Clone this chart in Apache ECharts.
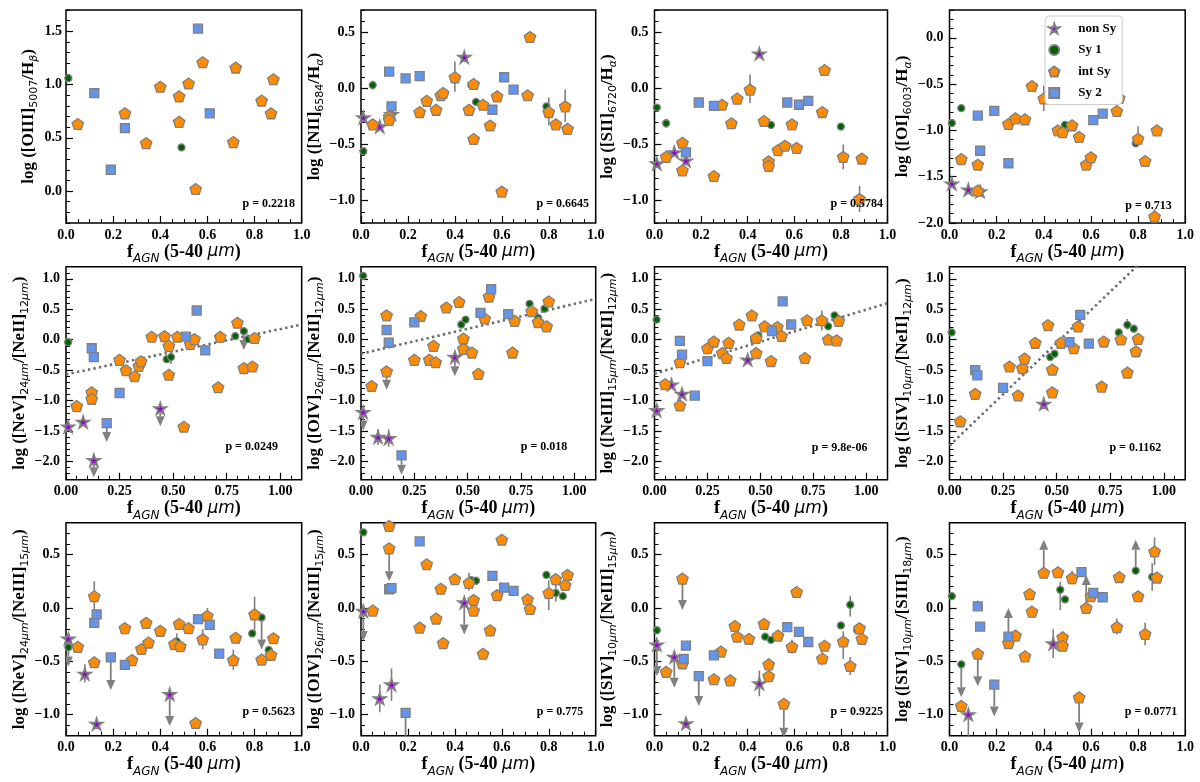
<!DOCTYPE html>
<html><head><meta charset="utf-8">
<script src="https://cdn.jsdelivr.net/npm/echarts@6/dist/echarts.min.js"></script>
<style>html,body{margin:0;padding:0;background:#fff}#c{width:1200px;height:782px}</style>
</head><body><div id="c"></div>
<script>
// ================= DATA =================
// each point: [fAGN, log ratio]; err: [x, low, high]; lim: [x, from, arrowTip]
const p1_nonSy = [];
const p1_sy1 = [[0.01,1.06],[0.49,0.41]];
const p1_int = [[0.05,0.63],[0.25,0.73],[0.34,0.45],[0.40,0.98],[0.48,0.89],[0.48,0.65],[0.52,1.01],[0.55,0.02],[0.58,1.21],[0.72,1.16],[0.71,0.46],[0.83,0.85],[0.87,0.73],[0.88,1.05]];
const p1_sy2 = [[0.12,0.92],[0.25,0.59],[0.19,0.20],[0.56,1.525],[0.61,0.73]];
const p1_err = [];
const p1_lim = [];

const p2_nonSy = [[0.01,-0.26],[0.08,-0.34],[0.13,-0.23],[0.44,0.28]];
const p2_sy1 = [[0.01,-0.56],[0.05,0.03],[0.47,0.03],[0.49,-0.12],[0.79,-0.16]];
const p2_int = [[0.05,-0.32],[0.12,-0.25],[0.12,-0.28],[0.25,-0.21],[0.28,-0.11],[0.32,-0.19],[0.34,-0.06],[0.35,-0.04],[0.40,0.10],[0.46,-0.19],[0.48,0.04],[0.48,-0.45],[0.52,-0.145],[0.55,-0.33],[0.58,-0.07],[0.60,-0.92],[0.71,-0.06],[0.72,0.46],[0.80,-0.21],[0.83,-0.32],[0.87,-0.16],[0.88,-0.36]];
const p2_sy2 = [[0.12,0.15],[0.13,-0.16],[0.19,0.09],[0.25,0.11],[0.56,-0.19],[0.61,0.10],[0.65,-0.01]];
const p2_err = [[0.40,-0.03,0.24],[0.80,-0.33,-0.08],[0.87,-0.30,-0.01],[0.05,-0.01,0.07],[0.12,0.12,0.19],[0.12,-0.31,-0.20]];
const p2_lim = [];

const p3_nonSy = [[0.01,-0.67],[0.085,-0.57],[0.135,-0.645],[0.45,0.31]];
const p3_sy1 = [[0.01,-0.17],[0.05,-0.31],[0.50,-0.325],[0.80,-0.34]];
const p3_int = [[0.05,-0.61],[0.12,-0.485],[0.12,-0.73],[0.255,-0.78],[0.29,-0.145],[0.33,-0.31],[0.355,-0.09],[0.41,-0.01],[0.47,-0.29],[0.49,-0.65],[0.49,-0.69],[0.53,-0.55],[0.56,-0.51],[0.59,-0.32],[0.61,-0.53],[0.72,-0.21],[0.73,0.165],[0.81,-0.61],[0.88,-0.985],[0.89,-0.625]];
const p3_sy2 = [[0.19,-0.125],[0.255,-0.155],[0.135,-0.57],[0.57,-0.125],[0.62,-0.145],[0.66,-0.11]];
const p3_err = [[0.41,-0.13,0.125],[0.81,-0.72,-0.50],[0.88,-1.10,-0.87],[0.05,-0.35,-0.27]];
const p3_lim = [];

const p4_nonSy = [[0.01,-1.575],[0.08,-1.64],[0.13,-1.66]];
const p4_sy1 = [[0.01,-0.92],[0.05,-0.76],[0.49,-0.94],[0.79,-1.14]];
const p4_int = [[0.05,-1.31],[0.12,-1.37],[0.12,-1.65],[0.25,-0.93],[0.28,-0.87],[0.32,-0.88],[0.35,-0.52],[0.40,-0.655],[0.46,-1.0],[0.48,-1.02],[0.52,-0.945],[0.55,-1.07],[0.58,-1.37],[0.60,-1.29],[0.71,-0.79],[0.72,-0.65],[0.80,-1.09],[0.83,-1.33],[0.87,-1.93],[0.88,-1.00]];
const p4_sy2 = [[0.12,-0.84],[0.19,-0.79],[0.13,-1.22],[0.25,-1.355],[0.61,-0.89],[0.65,-0.82]];
const p4_err = [[0.40,-0.79,-0.515],[0.80,-1.17,-0.955],[0.87,-2.0,-1.85]];
const p4_lim = [];

const p5_nonSy = [[0.01,-1.43],[0.08,-1.35],[0.13,-1.98],[0.44,-1.13]];
const p5_sy1 = [[0.01,-0.04],[0.47,-0.32],[0.49,-0.285],[0.79,0.06],[0.83,0.14],[0.85,0.01]];
const p5_int = [[0.05,-1.09],[0.12,-0.865],[0.12,-0.97],[0.25,-0.33],[0.28,-0.50],[0.32,-0.60],[0.34,-0.43],[0.35,-0.355],[0.40,0.05],[0.46,0.06],[0.48,-0.10],[0.48,-0.575],[0.52,0.05],[0.55,-1.43],[0.58,-0.07],[0.60,0.01],[0.71,-0.78],[0.72,0.05],[0.80,0.28],[0.83,-0.465],[0.87,-0.44],[0.88,0.03]];
const p5_sy2 = [[0.12,-0.14],[0.13,-0.285],[0.25,-0.875],[0.19,-1.37],[0.56,0.05],[0.61,0.48],[0.65,-0.175]];
const p5_err = [[0.49,-0.40,-0.20],[0.12,-0.92,-0.82]];
const p5_lim = [[0.13,-1.98,-2.26],[0.44,-1.13,-1.42],[0.19,-1.37,-1.68],[0.83,0.14,-0.17]];
const p5_fit = [[0,-0.57],[1.1,0.25]];

const p6_nonSy = [[0.01,-1.19],[0.08,-1.60],[0.13,-1.62],[0.44,-0.285]];
const p6_sy1 = [[0.01,1.05],[0.47,0.25],[0.49,0.33],[0.79,0.59],[0.83,0.36],[0.86,0.51]];
const p6_int = [[0.05,-0.76],[0.12,0.40],[0.12,-0.52],[0.25,-0.33],[0.28,0.39],[0.32,-0.33],[0.34,-0.10],[0.35,-0.37],[0.40,0.53],[0.46,0.62],[0.48,0.02],[0.48,-0.15],[0.52,-0.21],[0.55,-0.56],[0.58,0.35],[0.60,0.71],[0.71,-0.21],[0.72,0.31],[0.80,0.47],[0.83,0.29],[0.87,0.22],[0.88,0.63]];
const p6_sy2 = [[0.12,0.16],[0.13,-0.05],[0.25,0.285],[0.19,-1.90],[0.56,0.44],[0.61,0.83],[0.69,0.42]];
const p6_err = [[0.08,-1.73,-1.47],[0.13,-1.76,-1.47],[0.83,0.30,0.43]];
const p6_lim = [[0.01,-1.19,-1.49],[0.44,-0.285,-0.60],[0.12,-0.52,-0.82],[0.19,-1.90,-2.22]];
const p6_fit = [[0,-0.23],[1.1,0.67]];

const p7_nonSy = [[0.01,-1.16],[0.08,-0.74],[0.13,-0.89],[0.44,-0.33]];
const p7_sy1 = [[0.01,0.33],[0.47,-0.005],[0.49,0.07],[0.82,0.22],[0.85,0.40]];
const p7_int = [[0.05,-0.73],[0.12,-0.37],[0.12,-1.08],[0.25,-0.14],[0.28,-0.03],[0.32,-0.22],[0.34,-0.30],[0.35,-0.05],[0.40,0.25],[0.46,0.40],[0.48,0.03],[0.48,-0.22],[0.52,0.22],[0.55,-0.35],[0.58,0.21],[0.60,0.065],[0.71,-0.30],[0.72,0.32],[0.79,0.32],[0.82,0.005],[0.86,-0.01],[0.87,0.31]];
const p7_sy2 = [[0.12,-0.02],[0.13,-0.245],[0.25,-0.35],[0.19,-0.92],[0.555,0.14],[0.605,0.63],[0.645,0.25]];
const p7_err = [[0.12,-1.17,-0.98],[0.79,0.15,0.48],[0.01,-1.25,-1.05],[0.13,-0.95,-0.82]];
const p7_lim = [];
const p7_fit = [[0,-0.56],[1.1,0.60]];

const p8_nonSy = [[0.44,-1.055]];
const p8_sy1 = [[0.01,0.12],[0.47,-0.285],[0.49,-0.23],[0.79,0.12],[0.83,0.245],[0.86,0.18]];
const p8_int = [[0.05,-1.34],[0.12,-0.89],[0.28,-0.44],[0.32,-0.915],[0.34,-0.465],[0.35,-0.31],[0.40,-0.05],[0.46,0.24],[0.48,-0.49],[0.48,-0.865],[0.52,-0.05],[0.58,-0.14],[0.60,0.22],[0.71,-0.77],[0.72,-0.03],[0.80,0.005],[0.83,-0.54],[0.87,-0.19],[0.88,0.015]];
const p8_sy2 = [[0.12,-0.50],[0.13,-0.585],[0.25,-0.79],[0.56,-0.04],[0.61,0.41],[0.65,-0.065]];
const p8_err = [[0.83,0.17,0.34],[0.44,-1.12,-0.98]];
const p8_lim = [];
const p8_fit = [[0,-1.74],[1.1,1.97]];

const p9_nonSy = [[0.01,-0.29],[0.08,-0.62],[0.13,-1.09],[0.44,-0.81]];
const p9_sy1 = [[0.01,-0.37],[0.47,-0.315],[0.49,-0.37],[0.79,-0.24],[0.83,-0.09],[0.86,-0.395]];
const p9_int = [[0.05,-0.365],[0.12,0.11],[0.12,-0.51],[0.25,-0.19],[0.28,-0.49],[0.32,-0.385],[0.34,-0.14],[0.35,-0.325],[0.40,-0.215],[0.46,-0.34],[0.48,-0.15],[0.485,-0.36],[0.52,-0.19],[0.55,-1.08],[0.58,-0.295],[0.60,-0.075],[0.71,-0.49],[0.72,-0.28],[0.80,-0.06],[0.83,-0.485],[0.87,-0.44],[0.88,-0.285]];
const p9_sy2 = [[0.12,-0.14],[0.13,-0.06],[0.19,-0.465],[0.25,-0.535],[0.56,-0.105],[0.61,-0.16],[0.65,-0.43]];
const p9_err = [[0.12,-0.02,0.25],[0.47,-0.39,-0.24],[0.58,-0.39,-0.20],[0.60,-0.14,0.0],[0.71,-0.58,-0.39],[0.80,-0.24,0.105],[0.08,-0.70,-0.53]];
const p9_lim = [[0.01,-0.29,-0.55],[0.44,-0.81,-1.11],[0.19,-0.465,-0.77],[0.83,-0.09,-0.39]];

const p10_nonSy = [[0.01,-0.03],[0.08,-0.85],[0.13,-0.72],[0.44,0.05]];
const p10_sy1 = [[0.01,0.71],[0.47,0.26],[0.49,0.255],[0.79,0.31],[0.83,0.14],[0.86,0.11]];
const p10_int = [[0.05,-0.025],[0.12,0.77],[0.12,0.56],[0.25,-0.185],[0.28,0.41],[0.32,-0.10],[0.34,0.18],[0.35,-0.33],[0.40,0.27],[0.46,0.235],[0.48,0.075],[0.48,-0.025],[0.52,-0.43],[0.55,-0.21],[0.58,0.12],[0.60,0.64],[0.71,0.08],[0.72,-0.01],[0.80,0.14],[0.83,0.27],[0.87,0.215],[0.88,0.31]];
const p10_sy2 = [[0.12,0.175],[0.13,0.185],[0.25,0.625],[0.19,-0.985],[0.56,0.30],[0.61,0.19],[0.65,0.16]];
const p10_err = [[0.08,-0.98,-0.72],[0.13,-0.875,-0.57],[0.35,-0.38,-0.28],[0.46,0.16,0.33],[0.80,-0.02,0.26],[0.83,0.06,0.22]];
const p10_lim = [[0.01,-0.03,-0.31],[0.12,0.56,0.25],[0.44,0.05,-0.25],[0.19,-0.985,-1.30]];

const p11_nonSy = [[0.01,-0.345],[0.085,-0.46],[0.135,-1.085],[0.45,-0.71]];
const p11_sy1 = [[0.01,-0.21],[0.475,-0.27],[0.50,-0.30],[0.80,-0.165],[0.84,0.03],[0.87,-0.21]];
const p11_int = [[0.05,-0.60],[0.12,-0.52],[0.12,0.275],[0.255,-0.67],[0.285,-0.41],[0.325,-0.68],[0.345,-0.17],[0.355,-0.27],[0.405,-0.29],[0.47,-0.15],[0.49,-0.53],[0.49,-0.64],[0.53,-0.26],[0.555,-0.90],[0.59,-0.365],[0.61,0.15],[0.72,-0.475],[0.73,-0.355],[0.81,-0.315],[0.84,-0.545],[0.88,-0.19],[0.89,-0.29]];
const p11_sy2 = [[0.125,-0.48],[0.135,-0.355],[0.19,-0.64],[0.255,-0.445],[0.57,-0.18],[0.62,-0.225],[0.66,-0.32]];
const p11_err = [[0.45,-0.83,-0.59],[0.84,-0.08,0.11],[0.255,-0.72,-0.62],[0.355,-0.33,-0.20],[0.59,-0.43,-0.30],[0.72,-0.54,-0.41],[0.81,-0.48,-0.22],[0.84,-0.63,-0.46],[0.135,-0.40,-0.31]];
const p11_lim = [[0.01,-0.345,-0.64],[0.085,-0.46,-0.75],[0.12,0.275,-0.02],[0.19,-0.64,-0.92],[0.555,-0.90,-1.22]];

const p12_nonSy = [[0.08,-1.0],[0.44,-0.335]];
const p12_sy1 = [[0.01,0.11],[0.05,-0.53],[0.47,0.17],[0.49,0.08],[0.79,0.35],[0.86,0.29]];
const p12_int = [[0.05,-0.92],[0.12,-0.43],[0.25,-0.33],[0.28,-0.26],[0.32,-0.455],[0.34,0.13],[0.35,-0.035],[0.40,0.33],[0.46,0.335],[0.48,-0.275],[0.48,-0.355],[0.52,0.28],[0.55,-0.84],[0.58,0.0],[0.60,0.11],[0.71,-0.18],[0.72,0.29],[0.80,0.11],[0.83,-0.245],[0.87,0.53],[0.88,0.285]];
const p12_sy2 = [[0.12,0.015],[0.13,-0.175],[0.19,-0.72],[0.25,-0.27],[0.56,0.335],[0.61,0.14],[0.65,0.10]];
const p12_err = [[0.08,-1.30,-1.0],[0.44,-0.47,-0.20],[0.47,-0.02,0.245],[0.86,0.16,0.42],[0.34,0.08,0.18],[0.35,-0.09,0.02],[0.52,0.22,0.35],[0.71,-0.25,-0.10],[0.83,-0.35,-0.14],[0.87,0.40,0.66],[0.12,-0.03,0.07]];
const p12_lim = [[0.05,-0.53,-0.84],[0.12,-0.43,-0.735],[0.19,-0.72,-1.02],[0.25,-0.27,0.0],[0.40,0.33,0.64],[0.55,-0.84,-1.17],[0.58,0.0,0.31],[0.79,0.35,0.64]];

const pValues = ['0.2218','0.6645','0.5784','0.713','0.0249','0.018','9.8e-06','0.1162','0.5623','0.775','0.9225','0.0771'];
const classNames = ['non Sy','Sy 1','int Sy','Sy 2'];

// tick labels
const xTicksA = [0, 0.2, 0.4, 0.6, 0.8, 1.0];
const xTicksB = [0, 0.25, 0.5, 0.75, 1.0];
const yTicksP1 = [0, 0.5, 1.0, 1.5];
const yTicksP23 = [-1.0, -0.5, 0, 0.5];
const yTicksP4 = [-2.0, -1.5, -1.0, -0.5, 0];
const yTicksRow2 = [-2.0, -1.5, -1.0, -0.5, 0, 0.5, 1.0];
const yTicksRow3 = [-1.0, -0.5, 0, 0.5];

const yNames = [
 '{m|log ([OIII]}{s|5007}{m|/H}{g|β}{m|)}',
 '{m|log ([NII]}{s|6584}{m|/H}{g|α}{m|)}',
 '{m|log ([SII]}{s|6720}{m|/H}{g|α}{m|)}',
 '{m|log ([OI]}{s|6003}{m|/H}{g|α}{m|)}',
 '{m|log ([NeV]}{s|24}{g|μm}{m|/[NeII]}{s|12}{g|μm}{m|)}',
 '{m|log ([OIV]}{s|26}{g|μm}{m|/[NeII]}{s|12}{g|μm}{m|)}',
 '{m|log ([NeIII]}{s|15}{g|μm}{m|/[NeII]}{s|12}{g|μm}{m|)}',
 '{m|log ([SIV]}{s|10}{g|μm}{m|/[NeII]}{s|12}{g|μm}{m|)}',
 '{m|log ([NeV]}{s|24}{g|μm}{m|/[NeIII]}{s|15}{g|μm}{m|)}',
 '{m|log ([OIV]}{s|26}{g|μm}{m|/[NeIII]}{s|15}{g|μm}{m|)}',
 '{m|log ([SIV]}{s|10}{g|μm}{m|/[NeIII]}{s|15}{g|μm}{m|)}',
 '{m|log ([SIV]}{s|10}{g|μm}{m|/[SIII]}{s|18}{g|μm}{m|)}'
];
const xName = '{m|f}{a|AGN}{m| (5-40 }{i|μm}{m|)}';

// ================= LAYOUT / STYLE =================
const colLeft = [66, 361, 654.5, 949.5], colW = [235.7, 234.7, 233, 235.7];
const rowTop = [10, 266.7, 522.7], rowH = 213;
const yGap = [26, 32, 32, 33, 34, 32, 27, 32, 34, 31, 32, 34];
const xGap = [15, 18, 18];
const pPos = [[268.8,204.3],[562.8,204.3],[856.8,204],[1148.5,206],[251.7,446.7],[544,447.3],[839.7,447.7],[1135.3,447.7],[268.7,711.7],[560,711.7],[856.7,711.7],[1151,711.7]];

const STAR = (()=>{let d='path://';for(let k=0;k<10;k++){const r=k%2?0.382:1;const a=(-90+36*k)*Math.PI/180;d+=(k?'L':'M')+(r*Math.cos(a)).toFixed(4)+','+(r*Math.sin(a)).toFixed(4);}return d+'Z';})();
const PENT = (()=>{let d='path://';for(let k=0;k<5;k++){const a=(-90+72*k)*Math.PI/180;d+=(k?'L':'M')+Math.cos(a).toFixed(4)+','+Math.sin(a).toFixed(4);}return d+'Z';})();
const SQUARE = 'path://M-1,-1L1,-1L1,1L-1,1Z';
const CLS = [
 {symbol: STAR, size: 12, color: '#9400d3', bw: 1.8},
 {symbol: 'circle', size: 7, color: '#006400', bw: 1.3},
 {symbol: PENT, size: 11.5, color: '#ff8c00', bw: 1.3},
 {symbol: SQUARE, size: 9, color: '#6495ed', bw: 1.3}
];
const EDGE = '#808080';
const SERIF = '"Liberation Serif", "Times New Roman", serif';
const SANS = '"DejaVu Sans", sans-serif';

const panels = [
 {s:[p1_nonSy,p1_sy1,p1_int,p1_sy2], err:p1_err, lim:p1_lim, fit:null, x:[0,1], y:[-0.3,1.7], xt:xTicksA, yt:yTicksP1, xd:1},
 {s:[p2_nonSy,p2_sy1,p2_int,p2_sy2], err:p2_err, lim:p2_lim, fit:null, x:[0,1], y:[-1.2,0.7], xt:xTicksA, yt:yTicksP23, xd:1},
 {s:[p3_nonSy,p3_sy1,p3_int,p3_sy2], err:p3_err, lim:p3_lim, fit:null, x:[0,1], y:[-1.2,0.7], xt:xTicksA, yt:yTicksP23, xd:1},
 {s:[p4_nonSy,p4_sy1,p4_int,p4_sy2], err:p4_err, lim:p4_lim, fit:null, x:[0,1], y:[-2.0,0.3], xt:xTicksA, yt:yTicksP4, xd:1},
 {s:[p5_nonSy,p5_sy1,p5_int,p5_sy2], err:p5_err, lim:p5_lim, fit:p5_fit, x:[0,1.1], y:[-2.3,1.2], xt:xTicksB, yt:yTicksRow2, xd:2},
 {s:[p6_nonSy,p6_sy1,p6_int,p6_sy2], err:p6_err, lim:p6_lim, fit:p6_fit, x:[0,1.1], y:[-2.3,1.2], xt:xTicksB, yt:yTicksRow2, xd:2},
 {s:[p7_nonSy,p7_sy1,p7_int,p7_sy2], err:p7_err, lim:p7_lim, fit:p7_fit, x:[0,1.1], y:[-2.3,1.2], xt:xTicksB, yt:yTicksRow2, xd:2},
 {s:[p8_nonSy,p8_sy1,p8_int,p8_sy2], err:p8_err, lim:p8_lim, fit:p8_fit, x:[0,1.1], y:[-2.3,1.2], xt:xTicksB, yt:yTicksRow2, xd:2},
 {s:[p9_nonSy,p9_sy1,p9_int,p9_sy2], err:p9_err, lim:p9_lim, fit:null, x:[0,1], y:[-1.2,0.8], xt:xTicksA, yt:yTicksRow3, xd:1},
 {s:[p10_nonSy,p10_sy1,p10_int,p10_sy2], err:p10_err, lim:p10_lim, fit:null, x:[0,1], y:[-1.2,0.8], xt:xTicksA, yt:yTicksRow3, xd:1},
 {s:[p11_nonSy,p11_sy1,p11_int,p11_sy2], err:p11_err, lim:p11_lim, fit:null, x:[0,1], y:[-1.2,0.8], xt:xTicksA, yt:yTicksRow3, xd:1},
 {s:[p12_nonSy,p12_sy1,p12_int,p12_sy2], err:p12_err, lim:p12_lim, fit:null, x:[0,1], y:[-1.2,0.8], xt:xTicksA, yt:yTicksRow3, xd:1}
];

function steps(min, max, step) {
  const out = [];
  for (let k = Math.ceil(min / step - 1e-9); k * step <= max + 1e-9; k++) out.push(+(k * step).toFixed(4));
  return out;
}
function fmt(d) {
  return v => { const s = Math.abs(v).toFixed(d); return (v < -1e-9 ? '\u2212' : '') + s; };
}
const yRich = {
  m: {fontFamily: SERIF, fontWeight: 'bold', fontSize: 17, lineHeight: 20, verticalAlign: 'top', color: '#000'},
  s: {fontFamily: SANS, fontSize: 11, lineHeight: 11, padding: [10,0,0,0], verticalAlign: 'bottom', color: '#000'},
  g: {fontFamily: SANS, fontStyle: 'italic', fontSize: 11, lineHeight: 11, padding: [10,0,0,0], verticalAlign: 'bottom', color: '#000'}
};
const xRich = {
  m: {fontFamily: SERIF, fontWeight: 'bold', fontSize: 18, lineHeight: 22, verticalAlign: 'top', color: '#000'},
  a: {fontFamily: SANS, fontStyle: 'italic', fontSize: 12, lineHeight: 12, padding: [10,0,0,0], verticalAlign: 'bottom', color: '#000'},
  i: {fontFamily: SANS, fontStyle: 'italic', fontSize: 17, lineHeight: 22, verticalAlign: 'top', color: '#000'}
};
const labelFont = {fontFamily: SERIF, fontWeight: 'bold', fontSize: 14, color: '#000'};

function renderErr(params, api) {
  const a = api.coord([api.value(0), api.value(1)]);
  const b = api.coord([api.value(0), api.value(2)]);
  return {type: 'line', shape: {x1: a[0], y1: a[1], x2: b[0], y2: b[1]}, style: {stroke: EDGE, lineWidth: 1.6}};
}
function renderLim(params, api) {
  const a = api.coord([api.value(0), api.value(1)]);
  const b = api.coord([api.value(0), api.value(2)]);
  const dir = b[1] > a[1] ? 1 : -1, hl = 10, hw = 4.5;
  return {type: 'group', children: [
    {type: 'line', shape: {x1: a[0], y1: a[1], x2: b[0], y2: b[1] - dir * hl}, style: {stroke: EDGE, lineWidth: 1.8}},
    {type: 'polygon', shape: {points: [[b[0] - hw, b[1] - dir * hl], [b[0] + hw, b[1] - dir * hl], [b[0], b[1]]]}, style: {fill: EDGE}}
  ]};
}

const grid = [], xAxis = [], yAxis = [], series = [], graphic = [];
panels.forEach((P, i) => {
  const r = Math.floor(i / 4), c = i % 4;
  grid.push({left: colLeft[c], top: rowTop[r], width: colW[c], height: rowH, show: true,
             borderColor: '#000', borderWidth: 1.5, backgroundColor: 'transparent', containLabel: false});
  const xMinor = steps(P.x[0], P.x[1], 0.05);
  const yMinor = steps(P.y[0], P.y[1], 0.1);
  xAxis.push({gridIndex: i, type: 'value', min: P.x[0], max: P.x[1], position: 'bottom',
    axisLine: {show: false, onZero: false}, splitLine: {show: false},
    axisTick: {show: true, inside: true, length: 7, lineStyle: {color: '#000', width: 1.2}, customValues: P.xt},
    axisLabel: Object.assign({show: true, margin: 5, customValues: P.xt, formatter: fmt(P.xd)}, labelFont),
    name: xName, nameLocation: 'middle', nameGap: xGap[r], nameTextStyle: {rich: xRich}});
  xAxis.push({gridIndex: i, type: 'value', min: P.x[0], max: P.x[1], position: 'bottom',
    axisLine: {show: false, onZero: false}, splitLine: {show: false},
    axisTick: {show: true, inside: true, length: 4, lineStyle: {color: '#000', width: 1}, customValues: xMinor},
    axisLabel: {show: false}});
  yAxis.push({gridIndex: i, type: 'value', min: P.y[0], max: P.y[1], position: 'left',
    axisLine: {show: false, onZero: false}, splitLine: {show: false},
    axisTick: {show: true, inside: true, length: 7, lineStyle: {color: '#000', width: 1.2}, customValues: P.yt},
    axisLabel: Object.assign({show: true, margin: i === 0 ? 4 : 6, customValues: P.yt, formatter: fmt(1)}, labelFont),
    name: yNames[i], nameLocation: 'middle', nameRotate: 90, nameGap: yGap[i], nameTextStyle: {rich: yRich}});
  yAxis.push({gridIndex: i, type: 'value', min: P.y[0], max: P.y[1], position: 'left',
    axisLine: {show: false, onZero: false}, splitLine: {show: false},
    axisTick: {show: true, inside: true, length: 4, lineStyle: {color: '#000', width: 1}, customValues: yMinor},
    axisLabel: {show: false}});
  const xi = 2 * i, yi = 2 * i;
  if (P.fit) {
    series.push({type: 'line', xAxisIndex: xi, yAxisIndex: yi, data: P.fit, symbol: 'none', silent: true, clip: true,
      lineStyle: {color: '#6e6e6e', width: 2.6, type: [2.4, 3.2]}, z: 1, animation: false});
  }
  series.push({type: 'custom', xAxisIndex: xi, yAxisIndex: yi, data: P.err, renderItem: renderErr,
    encode: {x: 0, y: [1, 2]}, clip: true, silent: true, z: 2});
  series.push({type: 'custom', xAxisIndex: xi, yAxisIndex: yi, data: P.lim, renderItem: renderLim,
    encode: {x: 0, y: [1, 2]}, clip: true, silent: true, z: 2});
  P.s.forEach((d, k) => {
    const C = CLS[k];
    series.push({type: 'scatter', name: classNames[k], xAxisIndex: xi, yAxisIndex: yi, data: d,
      symbol: C.symbol, symbolSize: C.size, symbolKeepAspect: true, clip: true, silent: true,
      itemStyle: {color: C.color, borderColor: EDGE, borderWidth: C.bw, opacity: 1},
      emphasis: {disabled: true}, z: 5 + k});
  });
  graphic.push({type: 'text', x: pPos[i][0], y: pPos[i][1], z: 100,
    style: {text: 'p = ' + pValues[i], font: 'bold 12px "Liberation Serif"', fill: '#000', align: 'center', verticalAlign: 'middle'}});
});

const chart = echarts.init(document.getElementById('c'), null, {renderer: 'canvas'});
chart.setOption({
  animation: false,
  backgroundColor: '#fff',
  grid, xAxis, yAxis, series, graphic,
  legend: {
    data: classNames, orient: 'vertical', left: 1045, top: 16,
    itemWidth: 30, itemHeight: 10, itemGap: 8.5, padding: [6, 6, 5, 3],
    symbolKeepAspect: true,
    backgroundColor: '#fff', borderColor: '#cccccc', borderWidth: 1, borderRadius: 4,
    selectedMode: false,
    textStyle: {fontFamily: SERIF, fontWeight: 'bold', fontSize: 13, color: '#000', padding: [0, 0, 0, 4]},
    z: 50
  }
});
</script>
</body></html>
